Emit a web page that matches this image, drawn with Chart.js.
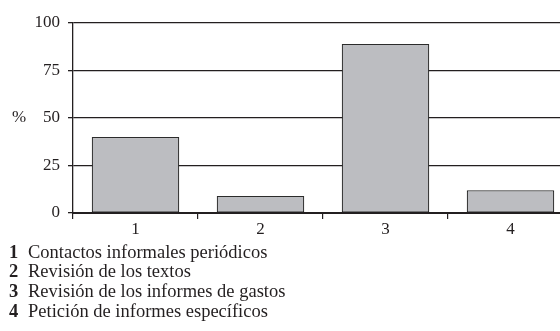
<!DOCTYPE html>
<html>
<head>
<meta charset="utf-8">
<script src="https://cdn.jsdelivr.net/npm/chart.js@4.4.1/dist/chart.umd.min.js"></script>
<style>
  html, body { margin: 0; padding: 0; background: #fff; overflow: hidden; }
  #wrap { width: 560px; height: 331px; overflow: hidden; position: relative; }
  canvas { display: block; }
</style>
</head>
<body>
<div id="wrap"><canvas id="chart" width="585" height="331"></canvas></div>
<script>
const categories = ['1', '2', '3', '4'];
const percentages = [40, 9, 89, 12];
const yTicks = [0, 25, 50, 75, 100];
const descriptions = [
  'Contactos informales periódicos',
  'Revisión de los textos',
  'Revisión de los informes de gastos',
  'Petición de informes específicos'
];

const serif = '"Liberation Serif", "Times New Roman", serif';
const ink = '#231f20';

// "%" beside the y axis and the numbered key under the chart
const notes = {
  id: 'notes',
  afterDraw(chart) {
    const ctx = chart.ctx;
    const y = chart.scales.y;
    ctx.save();
    ctx.fillStyle = ink;
    ctx.textBaseline = 'middle';
    ctx.font = '17px ' + serif;
    ctx.textAlign = 'left';
    ctx.fillText('%', 12, y.getPixelForValue(50));
    const top = 253, step = 19.6;
    categories.forEach((c, i) => {
      ctx.font = 'bold 18.5px ' + serif;
      ctx.fillText(c, 9, top + i * step);
      ctx.font = '18.5px ' + serif;
      ctx.fillText(descriptions[i], 28, top + i * step);
    });
    ctx.restore();
  }
};

new Chart(document.getElementById('chart'), {
  type: 'bar',
  data: {
    labels: categories,
    datasets: [{
      data: percentages,
      backgroundColor: '#bcbdc1',
      borderColor: '#2b2b2b',
      borderWidth: 1.2,
      borderSkipped: false,
      barPercentage: 0.7,
      categoryPercentage: 1
    }]
  },
  options: {
    responsive: false,
    animation: false,
    events: [],
    layout: { padding: { top: 23, right: 12, bottom: 0, left: 0 } },
    plugins: { legend: { display: false }, tooltip: { enabled: false } },
    scales: {
      x: {
        afterFit: s => { s.height = 118; },
        grid: {
          offset: true,
          drawOnChartArea: false,
          drawTicks: true,
          tickLength: 6,
          color: ink,
          lineWidth: 1.2
        },
        border: { color: ink, width: 2 },
        ticks: { color: ink, font: { family: serif, size: 17 }, padding: 0 }
      },
      y: {
        min: 0,
        max: 100,
        afterFit: s => { s.width = 73; },
        afterBuildTicks: s => { s.ticks = yTicks.map(v => ({ value: v })); },
        grid: {
          color: ink,
          lineWidth: 1.3,
          tickLength: 5
        },
        border: { color: ink, width: 1.3 },
        ticks: { color: ink, font: { family: serif, size: 17 }, padding: 8 }
      }
    }
  },
  plugins: [notes]
});
</script>
</body>
</html>
